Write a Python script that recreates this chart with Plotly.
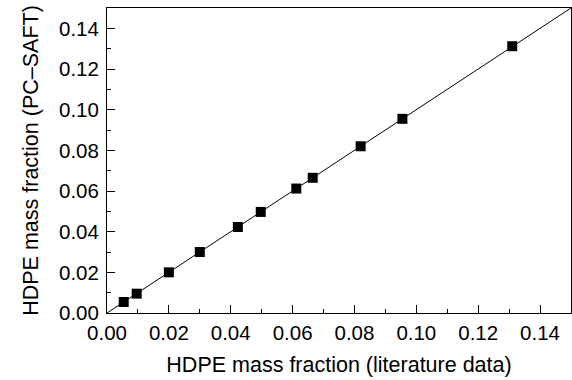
import plotly.graph_objects as go

lit = [0.0054, 0.0096, 0.0200, 0.0300, 0.0423, 0.0497, 0.0612, 0.0665, 0.0820, 0.0955, 0.1310]
pcsaft = [0.0054, 0.0095, 0.0200, 0.0300, 0.0423, 0.0497, 0.0612, 0.0665, 0.0820, 0.0955, 0.1312]
line_x = [0.0, 0.15]
line_y = [0.0, 0.15]
tickvals = [0.00, 0.02, 0.04, 0.06, 0.08, 0.10, 0.12, 0.14]
ticktext = ["0.00", "0.02", "0.04", "0.06", "0.08", "0.10", "0.12", "0.14"]

FONT = "Liberation Sans, Arial"

fig = go.Figure()
fig.add_trace(go.Scatter(x=line_x, y=line_y, mode="lines",
                         line=dict(color="black", width=1), showlegend=False))
fig.add_trace(go.Scatter(x=lit, y=pcsaft, mode="markers",
                         marker=dict(symbol="square", size=10, color="black"),
                         showlegend=False))

axis = dict(range=[0, 0.15], tickvals=tickvals, ticktext=ticktext,
            ticks="inside", ticklen=8, tickwidth=1, tickcolor="black",
            showline=True, linecolor="black", linewidth=1, mirror=True,
            showgrid=False, zeroline=False,
            minor=dict(tickvals=[0.01, 0.03, 0.05, 0.07, 0.09, 0.11, 0.13],
                       ticks="inside", ticklen=4, tickcolor="black", showgrid=False),
            tickfont=dict(family=FONT, size=20.5, color="black"))

fig.update_layout(
    width=572, height=380,
    margin=dict(l=107, r=1, t=8, b=67),
    paper_bgcolor="white", plot_bgcolor="white",
    xaxis=dict(axis, ticklabelstandoff=1,
               title=dict(text="HDPE mass fraction (literature data)",
                          font=dict(family=FONT, size=21.5, color="black"),
                          standoff=14)),
    yaxis=dict(axis, ticklabelstandoff=3,
               title=dict(text="HDPE mass fraction (PC\u2013SAFT)",
                          font=dict(family=FONT, size=21.5, color="black"),
                          standoff=14)),
)
fig.write_html("out.html")
